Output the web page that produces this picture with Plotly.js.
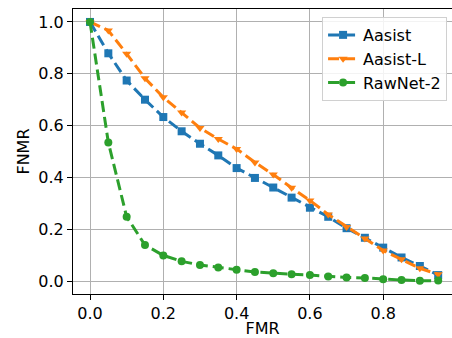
<!DOCTYPE html>
<html>
<head>
<meta charset="utf-8">
<script src="https://cdn.plot.ly/plotly-3.0.1.min.js"></script>
<style>html,body{margin:0;padding:0;background:#fff;overflow:hidden}</style>
</head>
<body>
<div id="chart" style="width:452px;height:338px"></div>
<script>
const fmr = [0, 0.05, 0.10, 0.15, 0.20, 0.25, 0.30, 0.35, 0.40, 0.45, 0.50, 0.55, 0.60, 0.65, 0.70, 0.75, 0.80, 0.85, 0.90, 0.95];
const aasist = [1.0, 0.879, 0.774, 0.700, 0.633, 0.578, 0.530, 0.485, 0.436, 0.398, 0.361, 0.322, 0.283, 0.248, 0.204, 0.167, 0.129, 0.091, 0.058, 0.023];
const aasistL = [1.0, 0.967, 0.877, 0.783, 0.709, 0.651, 0.591, 0.548, 0.510, 0.458, 0.411, 0.360, 0.311, 0.257, 0.209, 0.164, 0.118, 0.084, 0.049, 0.026];
const rawnet2 = [1.0, 0.535, 0.248, 0.139, 0.099, 0.076, 0.062, 0.052, 0.044, 0.035, 0.030, 0.026, 0.023, 0.018, 0.014, 0.012, 0.007, 0.004, 0.001, 0.002];
const names = ["Aasist", "Aasist-L", "RawNet-2"];
const colors = ["#1f77b4", "#ff7f0e", "#2ca02c"];
const symbols = ["square", "triangle-down", "circle"];
const series = [aasist, aasistL, rawnet2];

const traces = series.map((ys, i) => ({
  x: fmr, y: ys, name: names[i], type: "scatter", mode: "lines+markers",
  line: {color: colors[i], width: 3, dash: "11px,5px"},
  marker: {color: colors[i], symbol: symbols[i], size: 8}
}));

const F = "DejaVu Sans";
const layout = {
  width: 452, height: 338,
  margin: {l: 73, r: 0, t: 9, b: 44},
  paper_bgcolor: "#fff", plot_bgcolor: "#fff",
  font: {family: F, size: 16, color: "#000"},
  showlegend: true,
  legend: {x: 0.987, y: 0.972, xanchor: "right", yanchor: "top",
    bgcolor: "rgba(255,255,255,0.85)", bordercolor: "#d0d0d0", borderwidth: 1,
    font: {family: F, size: 16, color: "#000"}, tracegroupgap: 0},
  xaxis: {range: [-0.0464, 0.9877], tickvals: [0, 0.2, 0.4, 0.6, 0.8], ticktext: ["0.0", "0.2", "0.4", "0.6", "0.8"],
    showgrid: true, gridcolor: "#b0b0b0", gridwidth: 1, zeroline: false,
    showline: true, linecolor: "#000", linewidth: 1, mirror: true,
    ticks: "outside", ticklen: 5, tickcolor: "#000",
    tickfont: {family: F, size: 16, color: "#000"},
    title: {text: "FMR", font: {family: F, size: 16, color: "#000"}, standoff: 2}},
  yaxis: {range: [-0.05, 1.05], tickvals: [0, 0.2, 0.4, 0.6, 0.8, 1.0], ticktext: ["0.0", "0.2", "0.4", "0.6", "0.8", "1.0"],
    showgrid: true, gridcolor: "#b0b0b0", gridwidth: 1, zeroline: false,
    showline: true, linecolor: "#000", linewidth: 1,
    ticks: "outside", ticklen: 5, tickcolor: "#000",
    tickfont: {family: F, size: 16, color: "#000"},
    title: {text: "FNMR", font: {family: F, size: 16, color: "#000"}, standoff: 4}}
};
Plotly.newPlot("chart", traces, layout, {staticPlot: true, displayModeBar: false});
</script>
</body>
</html>
